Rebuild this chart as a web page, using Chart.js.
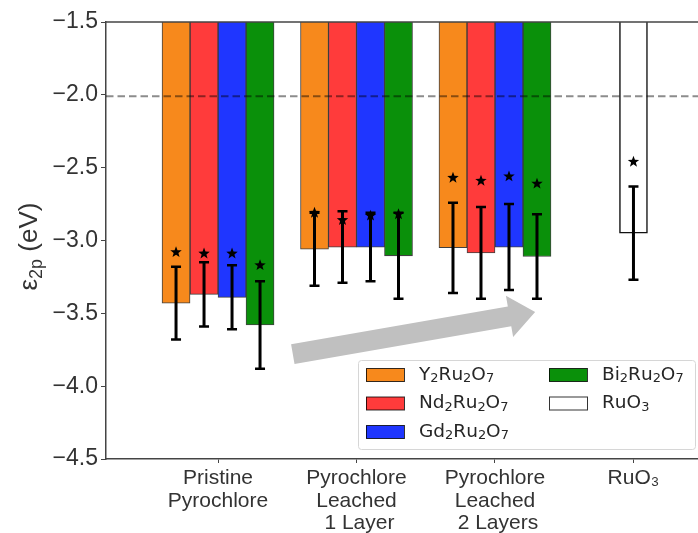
<!DOCTYPE html>
<html>
<head>
<meta charset="utf-8">
<script src="https://cdn.jsdelivr.net/npm/chart.js@4.4.1/dist/chart.umd.min.js"></script>
<style>
  html, body { margin: 0; padding: 0; background: #fff; }
  #wrap { width: 698px; height: 533px; }
</style>
</head>
<body>
<div id="wrap"><canvas id="myChart"></canvas></div>
<script>
// Categories / labels
const xLabels = [["Pristine", "Pyrochlore"], ["Pyrochlore", "Leached", " 1 Layer"], ["Pyrochlore", "Leached", " 2 Layers"], "RuO₃"];
const seriesNames = ["Y2Ru2O7", "Nd2Ru2O7", "Gd2Ru2O7", "Bi2Ru2O7", "RuO3"];
const colors = ["#f7891c", "#ff3b3b", "#1f36ff", "#0a900a", "#ffffff"];

// Bar values (eV), error half-widths and star markers
const y2ru2o7 = [-3.43, -3.06, -3.05, null];
const y2ru2o7Err = [0.25, 0.25, 0.31, null];
const y2ru2o7Star = [-3.08, -2.81, -2.57, null];

const nd2ru2o7 = [-3.37, -3.045, -3.085, null];
const nd2ru2o7Err = [0.22, 0.245, 0.315, null];
const nd2ru2o7Star = [-3.09, -2.86, -2.59, null];

const gd2ru2o7 = [-3.39, -3.045, -3.045, null];
const gd2ru2o7Err = [0.22, 0.235, 0.295, null];
const gd2ru2o7Star = [-3.09, -2.83, -2.56, null];

const bi2ru2o7 = [-3.58, -3.105, -3.11, null];
const bi2ru2o7Err = [0.30, 0.295, 0.29, null];
const bi2ru2o7Star = [-3.17, -2.82, -2.61, null];

const ruo3 = [null, null, null, -2.95];
const ruo3Err = [null, null, null, 0.32];
const ruo3Star = [null, null, null, -2.46];

const refLine = -2.01;
// arrow annotation (x in category units, y in eV)
const arrowFrom = [0.54, -3.78];
const arrowTo = [2.29, -3.49];

const values = [y2ru2o7, nd2ru2o7, gd2ru2o7, bi2ru2o7, ruo3];
const errs = [y2ru2o7Err, nd2ru2o7Err, gd2ru2o7Err, bi2ru2o7Err, ruo3Err];
const stars = [y2ru2o7Star, nd2ru2o7Star, gd2ru2o7Star, bi2ru2o7Star, ruo3Star];

const datasets = values.map((vals, k) => ({
    label: seriesNames[k],
    data: vals.map((v, i) => ({ x: i, y: v })),
    backgroundColor: colors[k],
    borderColor: k === 4 ? "#111" : "rgba(0,0,0,0.75)",
    borderWidth: k === 4 ? 1.5 : 1,
    borderSkipped: false,
    barThickness: 28,
    err: errs[k],
    stars: stars[k]
}));

// draws text where digits become subscripts
function drawChem(ctx, text, x, y, size, family) {
    let cx = x;
    for (const ch of text) {
        if (/[0-9]/.test(ch)) {
            ctx.font = (size * 0.7) + "px " + family;
            ctx.fillText(ch, cx, y + size * 0.22);
        } else {
            ctx.font = size + "px " + family;
            ctx.fillText(ch, cx, y);
        }
        cx += ctx.measureText(ch).width;
    }
}

function starPath(ctx, cx, cy, ro, ri) {
    ctx.beginPath();
    for (let i = 0; i < 10; i++) {
        const r = i % 2 === 0 ? ro : ri;
        const a = -Math.PI / 2 + i * Math.PI / 5;
        const px = cx + r * Math.cos(a), py = cy + r * Math.sin(a);
        if (i === 0) ctx.moveTo(px, py); else ctx.lineTo(px, py);
    }
    ctx.closePath();
}

const extras = {
    id: "extras",
    afterDatasetsDraw(chart) {
        const { ctx, chartArea: ca, scales: { x, y } } = chart;
        ctx.save();

        // error bars
        chart.data.datasets.forEach((ds, di) => {
            const meta = chart.getDatasetMeta(di);
            meta.data.forEach((bar, i) => {
                const v = ds.data[i].y, e = ds.err[i];
                if (v == null || e == null) return;
                const top = y.getPixelForValue(v + e), bot = y.getPixelForValue(v - e);
                ctx.strokeStyle = "#000";
                ctx.lineWidth = 3;
                ctx.beginPath();
                ctx.moveTo(bar.x, top); ctx.lineTo(bar.x, bot);
                ctx.stroke();
                ctx.lineWidth = 2.5;
                ctx.beginPath();
                ctx.moveTo(bar.x - 5, top); ctx.lineTo(bar.x + 5, top);
                ctx.moveTo(bar.x - 5, bot); ctx.lineTo(bar.x + 5, bot);
                ctx.stroke();
            });
        });

        // dashed reference line
        const ry = y.getPixelForValue(refLine);
        ctx.setLineDash([7.5, 4]);
        ctx.strokeStyle = "rgba(0,0,0,0.45)";
        ctx.lineWidth = 2;
        ctx.beginPath();
        ctx.moveTo(ca.left, ry); ctx.lineTo(ca.right, ry);
        ctx.stroke();
        ctx.setLineDash([]);

        // stars
        chart.data.datasets.forEach((ds, di) => {
            const meta = chart.getDatasetMeta(di);
            meta.data.forEach((bar, i) => {
                const s = ds.stars[i];
                if (s == null) return;
                starPath(ctx, bar.x, y.getPixelForValue(s), 6, 2.5);
                ctx.fillStyle = "#000";
                ctx.fill();
            });
        });

        // top spine
        ctx.strokeStyle = "#444";
        ctx.lineWidth = 1.5;
        ctx.beginPath();
        ctx.moveTo(ca.left, ca.top); ctx.lineTo(ca.right, ca.top);
        ctx.stroke();

        // arrow
        const x0 = x.getPixelForValue(arrowFrom[0]), y0 = y.getPixelForValue(arrowFrom[1]);
        const x1 = x.getPixelForValue(arrowTo[0]), y1 = y.getPixelForValue(arrowTo[1]);
        const ang = Math.atan2(y1 - y0, x1 - x0);
        const len = Math.hypot(x1 - x0, y1 - y0);
        const sw = 10, hw = 21, hl = 26;
        ctx.translate(x0, y0);
        ctx.rotate(ang);
        ctx.fillStyle = "#c0c0c0";
        ctx.beginPath();
        ctx.moveTo(0, -sw); ctx.lineTo(len - hl, -sw); ctx.lineTo(len - hl, -hw);
        ctx.lineTo(len, 0);
        ctx.lineTo(len - hl, hw); ctx.lineTo(len - hl, sw); ctx.lineTo(0, sw);
        ctx.closePath();
        ctx.fill();
        ctx.setTransform(1, 0, 0, 1, 0, 0);

        // legend
        const lw = 337, lh = 89;
        const lx = ca.right - 3 - lw, ly = ca.bottom - 10 - lh;
        ctx.fillStyle = "rgba(255,255,255,0.85)";
        ctx.strokeStyle = "#d6d6d6";
        ctx.lineWidth = 1;
        ctx.beginPath();
        ctx.roundRect(lx + 0.5, ly + 0.5, lw, lh, 3);
        ctx.fill();
        ctx.stroke();
        ctx.textBaseline = "middle";
        ctx.textAlign = "left";
        seriesNames.forEach((name, k) => {
            const col = k < 3 ? 0 : 1, row = k < 3 ? k : k - 3;
            const px = lx + 8 + col * 183, py = ly + 15 + row * 28.5;
            ctx.fillStyle = colors[k];
            ctx.fillRect(px, py - 6.5, 38, 13);
            ctx.strokeStyle = "rgba(0,0,0,0.8)";
            ctx.strokeRect(px + 0.5, py - 6.5, 38, 13);
            ctx.fillStyle = "#262626";
            drawChem(ctx, name, px + 53, py, 18.5, "'DejaVu Sans'");
        });
        ctx.restore();
    },
    afterDraw(chart) {
        const { ctx, chartArea: ca } = chart;
        ctx.save();
        ctx.translate(30, (ca.top + ca.bottom) / 2 + 6);
        ctx.rotate(-Math.PI / 2);
        ctx.fillStyle = "#333";
        ctx.textBaseline = "middle";
        ctx.textAlign = "left";
        const fam = "'Liberation Sans', Arial, sans-serif";
        ctx.font = "26px " + fam;
        const w1 = ctx.measureText("ε").width;
        ctx.font = "18px " + fam;
        const w2 = ctx.measureText("2p").width;
        ctx.font = "26px " + fam;
        const w3 = ctx.measureText(" (eV)").width;
        let cx = -(w1 + w2 + w3) / 2;
        ctx.fillText("ε", cx, 0);
        cx += w1;
        ctx.font = "18px " + fam;
        ctx.fillText("2p", cx, 7);
        cx += w2;
        ctx.font = "26px " + fam;
        ctx.fillText(" (eV)", cx, 0);
        ctx.restore();
    }
};

const ctx = document.getElementById("myChart").getContext("2d");

const config = {
    type: "bar",
    data: { datasets: datasets },
    options: {
        responsive: true,
        maintainAspectRatio: false,
        animation: false,
        skipNull: true,
        layout: { padding: { top: 22, right: 0, left: 0, bottom: 0 } },
        plugins: {
            legend: { display: false },
            tooltip: { enabled: false }
        },
        scales: {
            x: {
                type: "linear",
                min: -0.809,
                max: 3.466,
                offset: false,
                afterBuildTicks: (scale) => {
                    scale.ticks = xLabels.map((_, i) => ({ value: i }));
                },
                afterFit: (scale) => { scale.height = 74; },
                ticks: {
                    autoSkip: false,
                    maxRotation: 0,
                    color: "#333",
                    padding: 4,
                    font: { size: 21, family: "'Liberation Sans', Arial, sans-serif", lineHeight: 1.08 },
                    callback: (v) => xLabels[v]
                },
                grid: { display: true, drawOnChartArea: false, drawTicks: true, tickLength: 4, color: "#444", offset: false },
                border: { display: true, color: "#444", width: 1.5 }
            },
            y: {
                min: -4.5,
                max: -1.5,
                afterFit: (scale) => { scale.width = 106; },
                ticks: {
                    stepSize: 0.5,
                    color: "#333",
                    padding: 3,
                    font: { size: 23, family: "'Liberation Sans', Arial, sans-serif" },
                    callback: (v) => (v < 0 ? "\u2212" : "") + Math.abs(v).toFixed(1)
                },
                grid: { display: true, drawOnChartArea: false, drawTicks: true, tickLength: 5, color: "#444" },
                border: { display: true, color: "#444", width: 1.5 }
            }
        }
    },
    plugins: [extras]
};

const myChart = new Chart(ctx, config);
</script>
</body>
</html>
